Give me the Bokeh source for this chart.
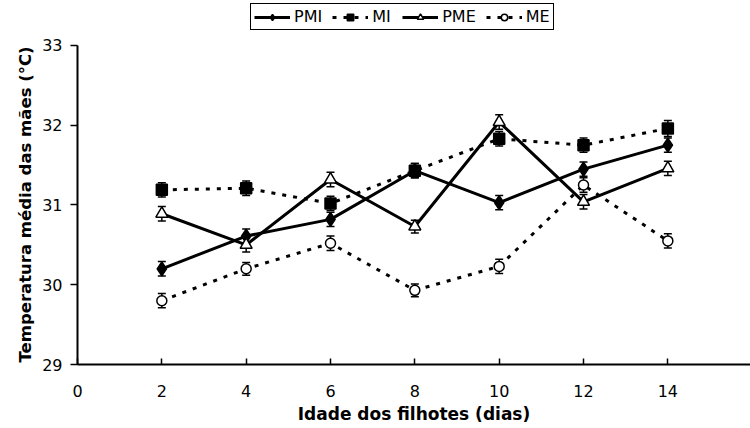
from bokeh.plotting import figure
from bokeh.models import (Range1d, FixedTicker, Legend, LegendItem, Whisker,
                          TeeHead, ColumnDataSource, Title)
from bokeh.embed import file_html
from bokeh.resources import INLINE

# ---- data ----
days = [2, 4, 6, 8, 10, 12, 14]
pmi = [30.20, 30.61, 30.82, 31.43, 31.03, 31.45, 31.75]
mi = [31.19, 31.21, 31.02, 31.43, 31.83, 31.75, 31.96]
pme = [30.89, 30.50, 31.32, 30.73, 32.04, 31.04, 31.46]
me = [29.80, 30.20, 30.52, 29.93, 30.23, 31.25, 30.55]
pmi_err = [0.09, 0.09, 0.09, 0.09, 0.09, 0.09, 0.09]
mi_err = [0.09, 0.09, 0.09, 0.09, 0.09, 0.09, 0.10]
pme_err = [0.09, 0.09, 0.09, 0.08, 0.09, 0.09, 0.09]
me_err = [0.09, 0.08, 0.09, 0.08, 0.09, 0.09, 0.09]
x_ticks = [0, 2, 4, 6, 8, 10, 12, 14]
y_ticks = [29, 30, 31, 32, 33]
x_label = "Idade dos filhotes (dias)"
y_label = "Temperatura média das mães (°C)"

FONT = "DejaVu Sans"

# y range extends a little above 33 to leave room for the legend; axis line stops at 33
p = figure(width=750, height=428, x_range=Range1d(0, 15.96), y_range=Range1d(29, 33.564),
           output_backend="svg", toolbar_location=None,
           min_border_left=77, min_border_right=0, min_border_top=0, min_border_bottom=64)
p.outline_line_color = None
p.xgrid.visible = False
p.ygrid.visible = False

for ax in (p.xaxis[0], p.yaxis[0]):
    ax.axis_line_width = 2
    ax.axis_line_color = "black"
    ax.major_tick_line_width = 1.5
    ax.major_tick_line_color = "black"
    ax.minor_tick_line_color = None
    ax.major_label_text_font = FONT
    ax.major_label_text_font_size = "16px"
    ax.major_label_text_color = "black"
    ax.axis_label_text_font = FONT
    ax.axis_label_text_font_size = "17px"
    ax.axis_label_text_font_style = "bold"
    ax.axis_label_text_color = "black"

p.xaxis.ticker = FixedTicker(ticks=x_ticks)
p.yaxis.ticker = FixedTicker(ticks=y_ticks)
p.yaxis.bounds = (29, 33)
p.xaxis.major_tick_in = 6
p.xaxis.major_tick_out = 0
p.xaxis.major_label_standoff = 20
p.xaxis.axis_label = x_label
p.xaxis.axis_label_standoff = 4
p.yaxis.major_tick_in = 0
p.yaxis.major_tick_out = 7
p.yaxis.major_label_standoff = 8

ytitle = Title(text=y_label, align="left", offset=2, standoff=10,
               text_font=FONT, text_font_size="16.5px", text_font_style="bold",
               text_color="black")
p.add_layout(ytitle, "left")

series = [
    ("PMI", pmi, pmi_err, "solid", "diamond", "black", 14),
    ("MI", mi, mi_err, "dotted", "square", "black", 11),
    ("PME", pme, pme_err, "solid", "triangle", "white", 12),
    ("ME", me, me_err, "dotted", "circle", "white", 10),
]

items = []
for name, vals, errs, style, marker, fill, size in series:
    src = ColumnDataSource(dict(x=days, y=vals,
                                lo=[v - e for v, e in zip(vals, errs)],
                                hi=[v + e for v, e in zip(vals, errs)]))
    w = Whisker(source=src, base="x", lower="lo", upper="hi", line_width=1.5,
                line_color="black", level="underlay",
                upper_head=TeeHead(size=8, line_width=1.5, line_color="black"),
                lower_head=TeeHead(size=8, line_width=1.5, line_color="black"))
    p.add_layout(w)
    if style == "solid":
        lr = p.line("x", "y", source=src, line_color="black", line_width=3)
    else:
        lr = p.line("x", "y", source=src, line_color="black", line_width=3,
                    line_dash="4 7")
    sr = p.scatter("x", "y", source=src, marker=marker, size=size,
                   fill_color=fill, line_color="black", line_width=1.5)
    items.append(LegendItem(label=name, renderers=[lr, sr]))

legend = Legend(items=items, orientation="horizontal", location=(173, 334),
                glyph_width=36, glyph_height=16, label_standoff=4, spacing=10,
                padding=3, margin=0, label_text_font=FONT, label_text_font_size="16px",
                label_text_color="black", label_height=16,
                border_line_color="black", border_line_alpha=1.0, border_line_width=1.5,
                background_fill_alpha=1.0)
p.add_layout(legend, "center")

open("out.html", "w").write(file_html(p, INLINE))
